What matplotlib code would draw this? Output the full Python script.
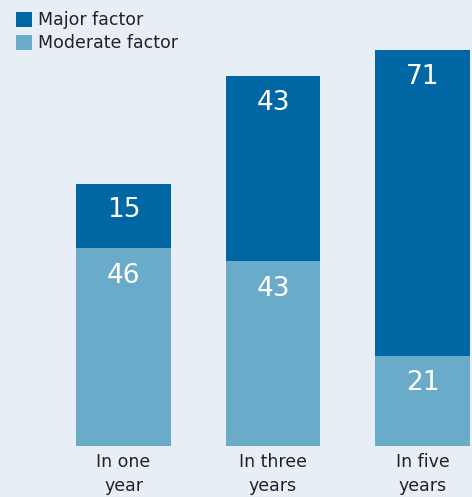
import matplotlib.pyplot as plt

# data
categories = ['In one\nyear', 'In three\nyears', 'In five\nyears']
moderate = [46, 43, 21]
major = [15, 43, 71]

bg = '#e8eef5'
c_major = '#0066a4'
c_moderate = '#6aabc9'

fig = plt.figure(figsize=(4.72, 4.97), dpi=100, facecolor=bg)
ax = fig.add_axes([0, 51 / 497, 1, 430 / 497])
ax.set_facecolor(bg)

x = list(range(len(categories)))
width = 0.635
ax.bar(x, moderate, width, color=c_moderate, label='Moderate factor')
ax.bar(x, major, width, bottom=moderate, color=c_major, label='Major factor')

ax.set_xlim(-0.826, 2.331)
ax.set_ylim(0, 100)
for s in ax.spines.values():
    s.set_visible(False)
ax.set_yticks([])
ax.set_xticks(x)
ax.set_xticklabels(categories, fontsize=12.5, color='#222222', linespacing=1.4)
ax.tick_params(axis='x', length=0, pad=5)

# value labels near the top of each segment
for i in x:
    ax.annotate(str(moderate[i]), (i, moderate[i]), xytext=(0, -20),
                textcoords='offset points', ha='center', va='center',
                color='white', fontsize=19)
    ax.annotate(str(major[i]), (i, moderate[i] + major[i]), xytext=(0, -19),
                textcoords='offset points', ha='center', va='center',
                color='white', fontsize=19)

# legend
handles, labels = ax.get_legend_handles_labels()
leg = fig.legend(handles[::-1], labels[::-1], loc='upper left',
                 bbox_to_anchor=(0.009, 1.0), frameon=False, fontsize=12.5,
                 handlelength=0.95, handleheight=0.95, handletextpad=0.35,
                 labelspacing=0.3, borderaxespad=0.25, borderpad=0.4)
for t in leg.get_texts():
    t.set_color('#222222')

fig.savefig('out.png', dpi=100, facecolor=bg)
